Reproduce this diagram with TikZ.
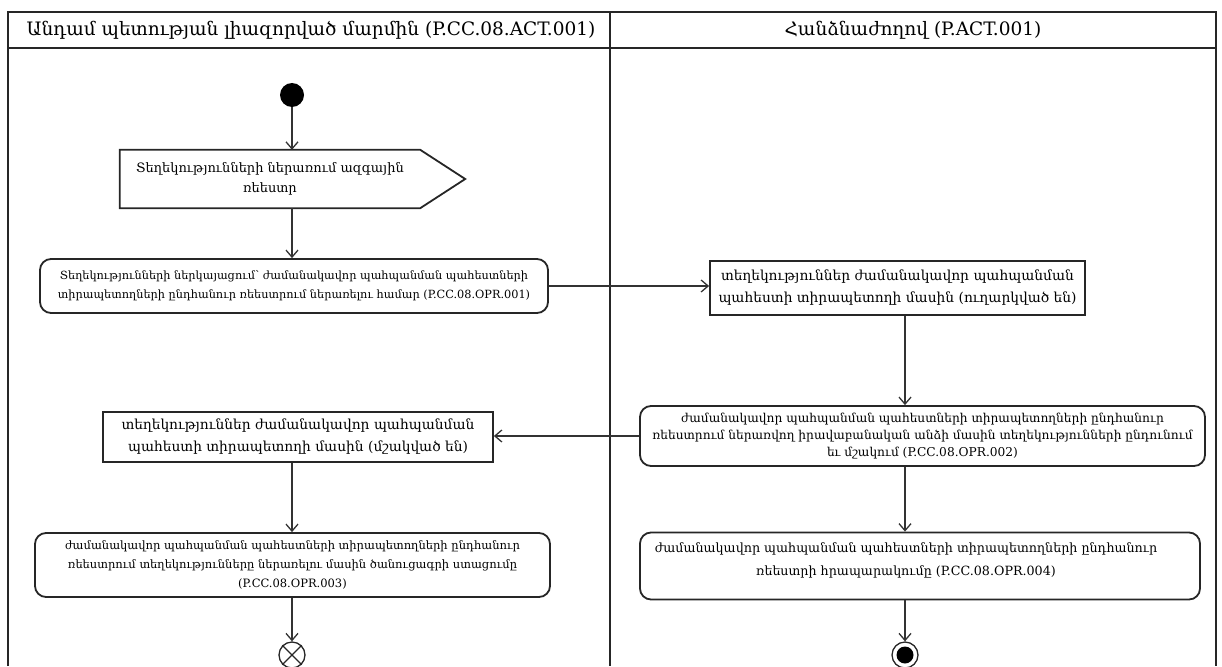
\documentclass[tikz,border=0pt]{standalone}
\usepackage{fontspec}
\setmainfont{DejaVu Serif}
\usetikzlibrary{arrows.meta}
\begin{document}
\begin{tikzpicture}[x=1pt,y=-1pt,
  lane/.style={draw=black!85, line width=1.3pt},
  box/.style={draw=black!85, line width=1.8pt},
  act/.style={box, rounded corners=11pt, align=center, inner sep=2pt},
  obj/.style={box, align=center, inner sep=2pt},
  flow/.style={draw=black!80, line width=1.3pt, -{Straight Barb[length=7pt,width=12pt,line width=1.3pt]}},
  startnode/.style={circle, fill=black, minimum size=24pt, inner sep=0pt},
  endnode/.style={circle, draw=black!85, line width=1.3pt, minimum size=26pt, inner sep=0pt}]
\useasboundingbox (0,0) rectangle (1222,666);
% swimlanes
\draw[lane] (8,666) -- (8,12) -- (1216,12) -- (1216,666);
\draw[lane] (8,48) -- (1216,48);
\draw[lane] (610,12) -- (610,666);
\node[font=\fontsize{18.5}{22}\selectfont] (h1) at (311,30) {Անդամ պետության լիազորված մարմին (P.CC.08.ACT.001)};
\node[font=\fontsize{18.5}{22}\selectfont] (h2) at (913,30) {Հանձնաժողով (P.ACT.001)};
% column references
\coordinate (lc) at (292,0);
\coordinate (rc) at (905,0);
% nodes
\node[startnode] (start) at (292,95) {};
\node[align=center, minimum width=300pt, minimum height=58pt, inner sep=0pt,
      font=\fontsize{13}{20}\selectfont] (sig) at (270,179)
  {Տեղեկությունների ներառում ազգային\\ռեեստր};
\draw[box] (sig.north west) -- (sig.north east) -- ([xshift=45pt]sig.east) -- (sig.south east) -- (sig.south west) -- cycle;
\node[act, minimum width=508pt, minimum height=54pt, font=\fontsize{11.3}{19}\selectfont] (a1) at (294,286)
  {Տեղեկությունների ներկայացում՝ ժամանակավոր պահպանման պահեստների\\տիրապետողների ընդհանուր ռեեստրում ներառելու համար (P.CC.08.OPR.001)};
\node[obj, minimum width=375pt, minimum height=54pt, font=\fontsize{13.8}{22}\selectfont] (a2) at (897.5,288)
  {տեղեկություններ ժամանակավոր պահպանման\\պահեստի տիրապետողի մասին (ուղարկված են)};
\node[act, minimum width=565pt, minimum height=60pt, font=\fontsize{12.2}{17}\selectfont] (a3) at (922.5,436)
  {ժամանակավոր պահպանման պահեստների տիրապետողների ընդհանուր\\ռեեստրում ներառվող իրավաբանական անձի մասին տեղեկությունների ընդունում\\եւ մշակում (P.CC.08.OPR.002)};
\node[obj, minimum width=390pt, minimum height=50pt, font=\fontsize{13.8}{22}\selectfont] (a4) at (298,437)
  {տեղեկություններ ժամանակավոր պահպանման\\պահեստի տիրապետողի մասին (մշակված են)};
\node[act, minimum width=515pt, minimum height=64pt, font=\fontsize{11.5}{19}\selectfont] (a5) at (292.5,565)
  {ժամանակավոր պահպանման պահեստների տիրապետողների ընդհանուր\\ռեեստրում տեղեկությունները ներառելու մասին ծանուցագրի ստացումը\\(P.CC.08.OPR.003)};
\node[act, minimum width=560pt, minimum height=67pt] (a6) at (920,566) {};
\node[align=center, inner sep=0pt, font=\fontsize{12.7}{23}\selectfont] (a6t) at (906,560)
  {ժամանակավոր պահպանման պահեստների տիրապետողների ընդհանուր\\ռեեստրի հրապարակումը (P.CC.08.OPR.004)};
\node[endnode] (e1) at (292,655) {};
\draw[black!85, line width=1.3pt] (e1.north west) -- (e1.south east) (e1.north east) -- (e1.south west);
\node[endnode] (e2) at (905,655) {};
\fill[black] (e2.center) circle (8.5);
% connectors
\draw[flow] (start) -- (start |- sig.north);
\draw[flow] (sig.south -| lc) -- (a1.north -| lc);
\draw[flow] (a1.east) -- (a2.west |- a1.east);
\draw[flow] (a2.south -| rc) -- (a3.north -| rc);
\draw[flow] (a3.west) -- (a4.east |- a3.west);
\draw[flow] (a4.south -| lc) -- (a5.north -| lc);
\draw[flow] (a5.south -| lc) -- (e1.north);
\draw[flow] (a3.south -| rc) -- (a6.north -| rc);
\draw[flow] (a6.south -| rc) -- (e2.north);
\end{tikzpicture}
\end{document}
